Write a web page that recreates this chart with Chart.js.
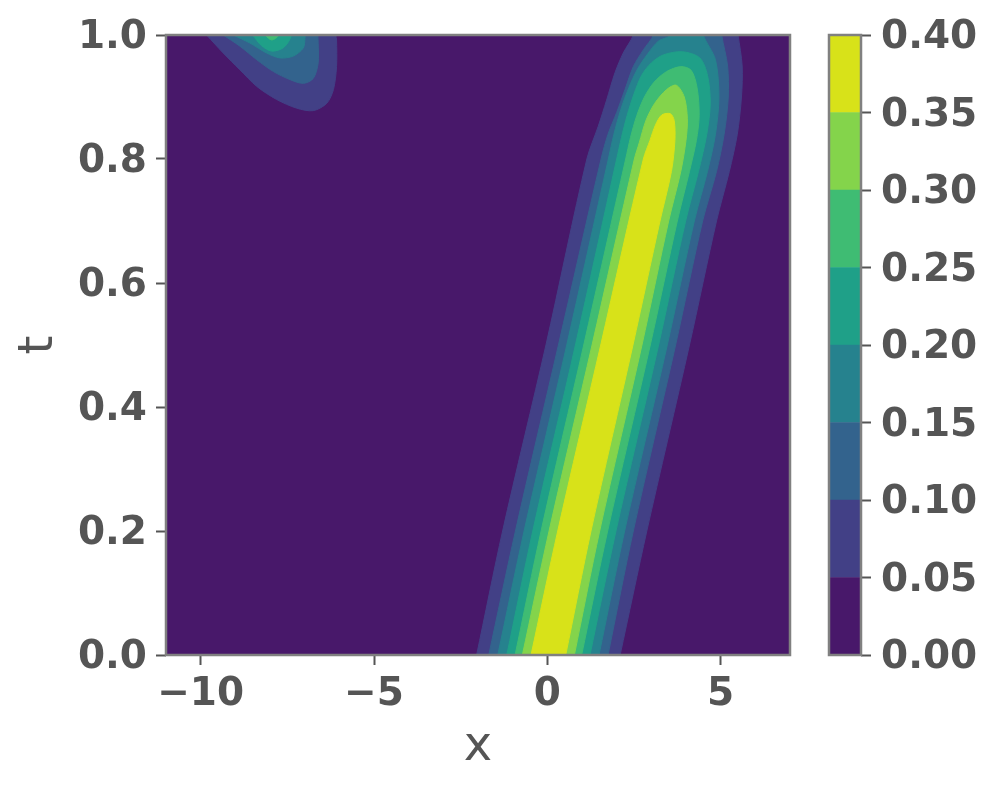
<!DOCTYPE html>
<html><head><meta charset="utf-8">
<script src="https://cdn.jsdelivr.net/npm/chart.js@4.4.1/dist/chart.umd.min.js"></script>
<style>
html,body{margin:0;padding:0;background:#fff;}
#wrap{position:relative;width:997px;height:790px;}
#main{position:absolute;left:0;top:0;width:997px;height:790px;}
#cbar{position:absolute;left:800px;top:0;width:197px;height:790px;}
</style></head><body>
<div id="wrap"><canvas id="main" width="997" height="790"></canvas><canvas id="cbar" width="197" height="790"></canvas></div>
<script>
// ---- data (x, t) ----
const levels = [0.00, 0.05, 0.10, 0.15, 0.20, 0.25, 0.30, 0.35, 0.40];
const xTicks = [-10, -5, 0, 5];
const tTicks = [0, 0.2, 0.4, 0.6, 0.8, 1.0];
const cbTicks = [0.00, 0.05, 0.10, 0.15, 0.20, 0.25, 0.30, 0.35, 0.40];

// contour regions (value >= level) of the main ridge
const ridge05 = [[-2.12,-0.02],[-2.04,0],[-1.29,0.2],[-0.04,0.5],[1.14,0.8],[1.47,0.853],[1.71,0.895],[1.95,0.939],[2.19,0.971],[2.48,1.0],[2.56,1.03],[5.4,1.03],[5.5,1.0],[5.62,0.95],[5.6,0.9],[5.48,0.84],[5.25,0.78],[4.88,0.7],[4.1,0.5],[2.87,0.2],[2.1,0],[2.02,-0.02]];
const ridge10 = [[-1.77,-0.02],[-1.69,0],[-0.92,0.2],[0.32,0.5],[1.55,0.8],[1.75,0.84],[2.0,0.875],[2.24,0.912],[2.48,0.949],[2.77,0.976],[3.06,1.0],[3.14,1.03],[4.98,1.03],[5.03,1.0],[5.2,0.95],[5.22,0.9],[5.1,0.84],[4.88,0.78],[4.48,0.7],[3.70,0.5],[2.48,0.2],[1.75,0],[1.67,-0.02]];
const ridge15 = [[-1.51,-0.02],[-1.43,0],[-0.67,0.2],[0.56,0.5],[1.76,0.8],[1.92,0.84],[2.12,0.88],[2.35,0.915],[2.6,0.945],[2.9,0.97],[3.2,0.99],[3.54,1.0],[3.6,1.03],[4.45,1.03],[4.5,1.0],[4.85,0.96],[4.95,0.9],[4.85,0.84],[4.62,0.78],[4.24,0.7],[3.46,0.5],[2.23,0.2],[1.49,0],[1.41,-0.02]];
const ridge20 = [[-1.25,-0.02],[-1.17,0],[-0.42,0.2],[0.81,0.5],[2.0,0.8],[2.14,0.835],[2.3,0.87],[2.5,0.905],[2.72,0.935],[3.0,0.955],[3.35,0.968],[3.9,0.973],[4.4,0.963],[4.62,0.935],[4.7,0.89],[4.6,0.84],[4.36,0.78],[3.99,0.7],[3.21,0.5],[1.98,0.2],[1.23,0],[1.15,-0.02]];
const ridge25 = [[-1.01,-0.02],[-0.93,0],[-0.18,0.2],[1.05,0.5],[2.26,0.8],[2.4,0.835],[2.58,0.87],[2.8,0.9],[3.08,0.924],[3.44,0.941],[3.85,0.949],[4.15,0.943],[4.32,0.915],[4.38,0.87],[4.3,0.83],[4.1,0.78],[3.75,0.7],[2.97,0.5],[1.74,0.2],[0.99,0],[0.91,-0.02]];
const ridge30 = [[-0.80,-0.02],[-0.72,0],[0.05,0.2],[1.29,0.5],[2.51,0.8],[2.65,0.826],[2.85,0.863],[3.1,0.89],[3.44,0.912],[3.72,0.919],[3.95,0.9],[4.04,0.865],[4.0,0.83],[3.85,0.78],[3.5,0.7],[2.73,0.5],[1.51,0.2],[0.78,0],[0.70,-0.02]];
const ridge35 = [[-0.55,-0.02],[-0.47,0],[0.30,0.2],[1.54,0.5],[2.77,0.8],[2.96,0.83],[3.12,0.855],[3.3,0.871],[3.55,0.873],[3.66,0.862],[3.68,0.83],[3.58,0.78],[3.25,0.7],[2.47,0.5],[1.26,0.2],[0.53,0],[0.45,-0.02]];

// contour regions of the small blob at the top left
const blob05 = [[-9.83,1.0],[-9.35,0.971],[-8.87,0.944],[-8.38,0.917],[-7.81,0.896],[-7.23,0.882],[-6.75,0.878],[-6.36,0.890],[-6.17,0.912],[-6.08,0.949],[-6.08,0.992],[-6.1,1.0],[-6.1,1.03],[-9.9,1.03]];
const blob10 = [[-9.35,1.0],[-8.87,0.982],[-8.38,0.96],[-7.90,0.941],[-7.42,0.928],[-7.04,0.922],[-6.75,0.93],[-6.61,0.955],[-6.61,0.987],[-6.62,1.0],[-6.62,1.03],[-9.4,1.03]];
const blob15 = [[-9.06,1.0],[-8.58,0.987],[-8.10,0.971],[-7.71,0.963],[-7.33,0.966],[-7.04,0.979],[-6.99,0.995],[-6.99,1.0],[-6.99,1.03],[-9.1,1.03]];
const blob20 = [[-8.5,1.0],[-8.25,0.983],[-7.95,0.974],[-7.6,0.98],[-7.38,1.0],[-7.38,1.03],[-8.5,1.03]];
const blob25 = [[-8.15,1.0],[-7.95,0.992],[-7.75,1.0],[-7.75,1.03],[-8.15,1.03]];

// whole domain (value >= 0)
const domain = [[-11,0],[-11,1],[7,1],[7,0]];

// ---- styles ----
const bandColors = ['#48186a','#424086','#33638d','#26828e','#1fa088','#3fbc73','#84d44b','#d8e219'];
const INK = '#555555';
const FRAME = '#808080';
Chart.defaults.font.family = "'DejaVu Sans', sans-serif";

// regions, topmost first; band = index of the level the region is above
const regions = [
  {pts: ridge35, band: 7}, {pts: ridge30, band: 6},
  {pts: blob25, band: 5}, {pts: ridge25, band: 5},
  {pts: blob20, band: 4}, {pts: ridge20, band: 4},
  {pts: blob15, band: 3}, {pts: ridge15, band: 3},
  {pts: blob10, band: 2}, {pts: ridge10, band: 2},
  {pts: blob05, band: 1}, {pts: ridge05, band: 1},
  {pts: domain, band: 0}
];

const framePlugin = {
  id: 'frame',
  afterDraw(chart) {
    const a = chart.chartArea, ctx = chart.ctx;
    ctx.save();
    ctx.strokeStyle = FRAME; ctx.lineWidth = 2.5;
    ctx.strokeRect(a.left, a.top, a.right - a.left, a.bottom - a.top);
    ctx.restore();
  }
};

const tickFont = {size: 39, weight: 'bold'};
const gridOpts = {drawOnChartArea: false, drawTicks: true, tickLength: 10, tickWidth: 2, tickColor: INK, color: INK};

new Chart(document.getElementById('main'), {
  type: 'line',
  data: {
    datasets: regions.map(r => ({
      data: r.pts.map(([x, t]) => ({x: x, y: t})),
      backgroundColor: bandColors[r.band],
      borderColor: bandColors[r.band],
      borderWidth: 1,
      pointRadius: 0,
      fill: 'shape',
      tension: 0.3,
      clip: 0
    }))
  },
  options: {
    animation: false, responsive: false, events: [],
    layout: {padding: {left: 0, top: 35, right: 207, bottom: 0}},
    plugins: {legend: {display: false}, tooltip: {enabled: false},
              filler: {propagate: false, drawTime: 'beforeDatasetDraw'}},
    scales: {
      x: {
        type: 'linear', min: -11, max: 7,
        afterFit(s) { s.height = 135; },
        afterBuildTicks(s) { s.ticks = xTicks.map(v => ({value: v})); },
        grid: gridOpts, border: {display: false},
        ticks: {font: tickFont, color: INK, padding: 6, maxRotation: 0, autoSkip: false,
                callback: v => String(v).replace('-', '\u2212')},
        title: {display: true, text: 'x', color: INK, font: {size: 48, weight: 'normal'},
                padding: {top: 0, bottom: 14}}
      },
      y: {
        type: 'linear', min: 0, max: 1,
        afterFit(s) { s.width = 166; },
        afterBuildTicks(s) { s.ticks = tTicks.map(v => ({value: v})); },
        grid: gridOpts, border: {display: false},
        ticks: {font: tickFont, color: INK, padding: 9, autoSkip: false, labelOffset: 3,
                callback: v => Number(v).toFixed(1)},
        title: {display: true, text: 't', color: INK, font: {size: 48, weight: 'normal'},
                padding: {top: 11, bottom: 0}}
      }
    }
  },
  plugins: [framePlugin]
});

new Chart(document.getElementById('cbar'), {
  type: 'bar',
  data: {
    labels: [''],
    datasets: bandColors.map((c, i) => ({
      data: [levels[i + 1] - levels[i]],
      backgroundColor: c, borderWidth: 0,
      barPercentage: 1, categoryPercentage: 1
    }))
  },
  options: {
    animation: false, responsive: false, events: [],
    layout: {padding: {left: 29, top: 35, right: 0, bottom: 135}},
    plugins: {legend: {display: false}, tooltip: {enabled: false}},
    scales: {
      x: {display: false, stacked: true},
      y: {
        stacked: true, position: 'right', min: 0, max: 0.4,
        afterFit(s) { s.width = 136; },
        afterBuildTicks(s) { s.ticks = cbTicks.map(v => ({value: v})); },
        grid: gridOpts, border: {display: false},
        ticks: {font: tickFont, color: INK, padding: 10, autoSkip: false, labelOffset: 3,
                callback: v => Number(v).toFixed(2)}
      }
    }
  },
  plugins: [framePlugin]
});
</script>
</body></html>
